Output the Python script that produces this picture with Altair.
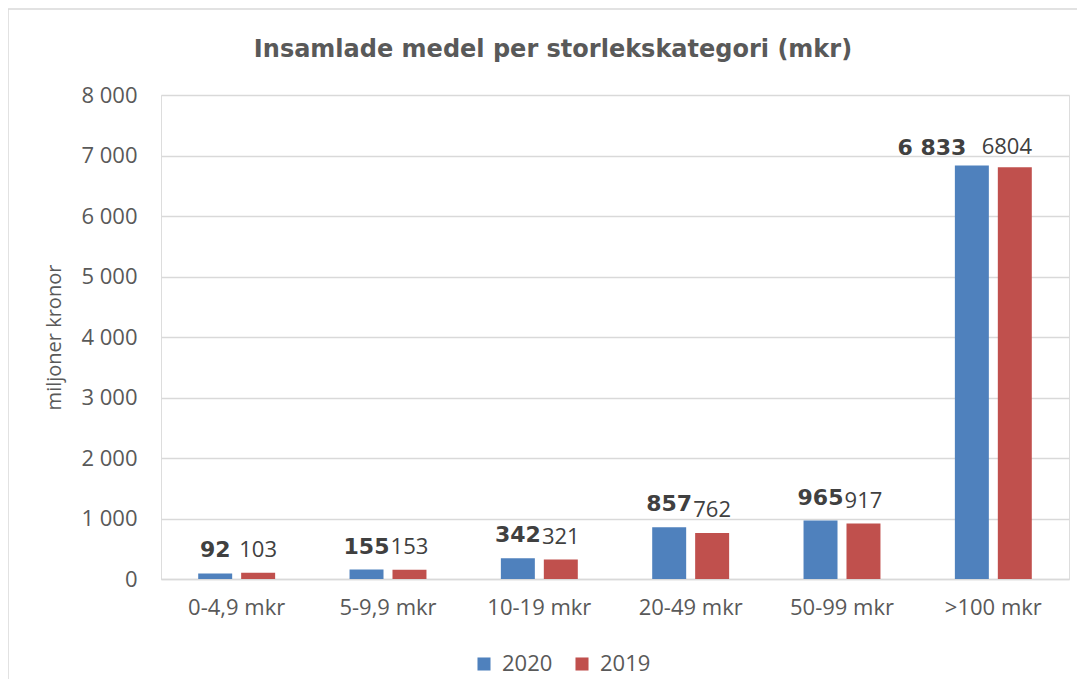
import altair as alt
import pandas as pd

categories = ["0-4,9 mkr", "5-9,9 mkr", "10-19 mkr", "20-49 mkr", "50-99 mkr", ">100 mkr"]
values_2020 = [92, 155, 342, 857, 965, 6833]
values_2019 = [103, 153, 321, 762, 917, 6804]
years = ["2020", "2019"]
colors = ["#4F81BD", "#C0504D"]
y_ticks = [0, 1000, 2000, 3000, 4000, 5000, 6000, 7000, 8000]

rows = []
for c, a, b in zip(categories, values_2020, values_2019):
    rows.append({"kategori": c, "år": "2020", "värde": a})
    rows.append({"kategori": c, "år": "2019", "värde": b})
df = pd.DataFrame(rows)

FONT = "Open Sans"
BOLD_FONT = "DejaVu Sans"
TXT = "#595959"
LAST = categories[-1]

x_enc = alt.X("kategori:N", sort=categories,
              scale=alt.Scale(paddingInner=0, paddingOuter=0),
              axis=alt.Axis(title=None, labelAngle=0, labelFontSize=22, labelColor=TXT,
                            labelFont=FONT, labelPadding=18, ticks=False,
                            domainColor="#D9D9D9", domainWidth=1.5))
xo_enc = alt.XOffset("år:N", sort=years,
                     scale=alt.Scale(paddingInner=0.209, paddingOuter=0.866))

bars = alt.Chart(df).mark_bar().encode(
    x=x_enc,
    xOffset=xo_enc,
    y=alt.Y("värde:Q", scale=alt.Scale(domain=[0, 8000], nice=False),
            axis=alt.Axis(values=y_ticks, title="miljoner kronor", titleFontSize=20,
                          titleFontWeight="normal", titleColor=TXT, titleFont=FONT,
                          titlePadding=16,
                          labelExpr="replace(format(datum.value, ','), ',', ' ')",
                          labelFontSize=22, labelColor=TXT, labelFont=FONT,
                          labelPadding=24, ticks=False, domain=False,
                          gridColor="#D9D9D9", gridWidth=1.3)),
    color=alt.Color("år:N", sort=years, scale=alt.Scale(domain=years, range=colors),
                    legend=alt.Legend(title=None, orient="none", legendX=312, legendY=558,
                                      direction="horizontal", symbolType="square",
                                      symbolSize=170, symbolStrokeWidth=0,
                                      labelFontSize=22, labelColor=TXT, labelFont=FONT,
                                      labelOffset=7, columnPadding=18)),
)

base_text = alt.Chart(df).transform_calculate(
    etikett="replace(format(datum['värde'], ','), ',', ' ')"
)
enc = dict(x=alt.X("kategori:N", sort=categories), xOffset=xo_enc, y="värde:Q")

text_2020 = base_text.transform_filter(
    (alt.datum["år"] == "2020") & (alt.datum.kategori != LAST)
).mark_text(
    font=BOLD_FONT, fontSize=22, fontWeight="bold", color="#404040",
    baseline="alphabetic", dy=-16
).encode(text="etikett:N", **enc)

text_2020_last = base_text.transform_filter(
    (alt.datum["år"] == "2020") & (alt.datum.kategori == LAST)
).mark_text(
    font=BOLD_FONT, fontSize=22, fontWeight="bold", color="#404040",
    baseline="alphabetic", dy=-11, dx=-40
).encode(text="etikett:N", **enc)

text_2019 = alt.Chart(df).transform_filter(
    (alt.datum["år"] == "2019") & (alt.datum.kategori != LAST)
).mark_text(
    font=FONT, fontSize=22, color="#404040", baseline="alphabetic", dy=-16
).encode(text="värde:Q", **enc)

text_2019_last = alt.Chart(df).transform_filter(
    (alt.datum["år"] == "2019") & (alt.datum.kategori == LAST)
).mark_text(
    font=FONT, fontSize=22, color="#404040", baseline="alphabetic", dy=-13, dx=-8
).encode(text="värde:Q", **enc)

border = alt.Chart(alt.Data(values=[{}])).mark_rect(
    fill="white", fillOpacity=0, stroke="#D9D9D9", strokeWidth=1.5, clip=False
).encode(
    x=alt.value(-153), x2=alt.value(1000), y=alt.value(-86), y2=alt.value(700)
)

chart = alt.layer(border, bars, text_2020, text_2020_last, text_2019, text_2019_last).properties(
    width=908, height=484,
    title=alt.TitleParams("Insamlade medel per storlekskategori (mkr)", font=BOLD_FONT,
                          fontSize=24, fontWeight="bold", color=TXT,
                          anchor="middle", dx=-62, dy=54, offset=0),
    autosize=alt.AutoSizeParams(type="none"),
    padding={"left": 153, "top": 87, "right": 8, "bottom": 100},
).configure_view(stroke=None).configure(background="white")

chart.save("out.html", embed_options={"renderer": "svg", "actions": False})
